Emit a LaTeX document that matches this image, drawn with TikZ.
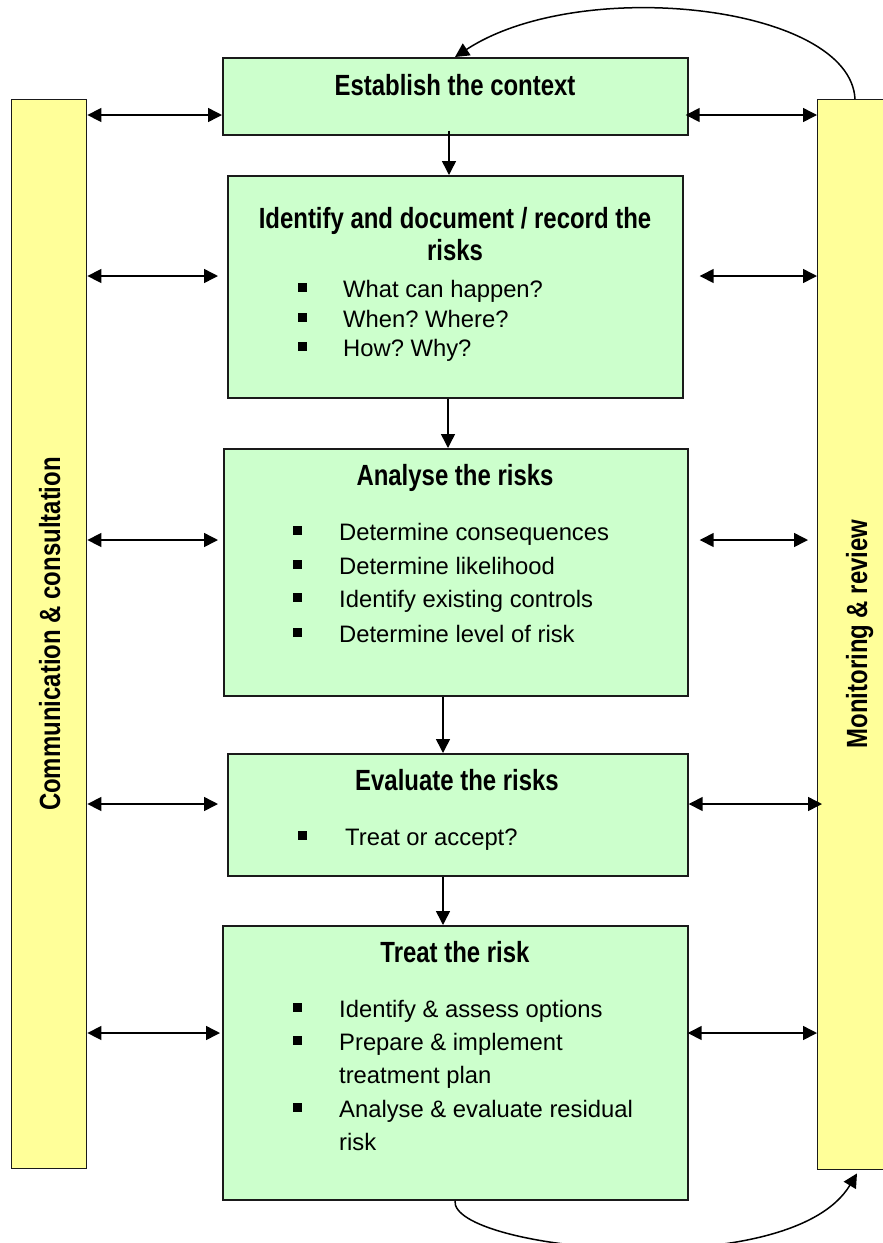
\documentclass[tikz,border=0pt]{standalone}
\usepackage{fontspec}
\setmainfont{Liberation Sans}
\newfontfamily\narrowbold{Liberation Sans}[FakeStretch=0.82]
\usetikzlibrary{arrows.meta,calc}
\definecolor{boxgreen}{HTML}{CCFFCC}
\definecolor{baryellow}{HTML}{FFFF99}
\definecolor{edge}{HTML}{1A1A1A}
\frenchspacing
\begin{document}
\begin{tikzpicture}[x=1pt,y=-1pt,
  stage/.style={draw=edge, line width=1.7pt, fill=boxgreen, inner sep=0pt, anchor=north west},
  bar/.style={draw=edge, line width=1.4pt, fill=baryellow, inner sep=0pt, anchor=north west},
  title/.style={font=\narrowbold\bfseries\fontsize{29.2}{34}\selectfont, anchor=base, inner sep=0pt},
  item/.style={font=\frenchspacing\fontsize{23.8}{30}\selectfont, anchor=base west, inner sep=0pt},
  dbl/.style={line width=1.5pt, {Triangle[length=14pt,width=14pt]}-{Triangle[length=14pt,width=14pt]}},
  arr/.style={line width=1.5pt, -{Triangle[length=14pt,width=14pt]}},
  bul/.style={fill=black}]
\useasboundingbox (0,0) rectangle (883,1243);
\clip (0,0) rectangle (883,1243);

% bars
\node[bar, minimum width=75pt, minimum height=1069pt] (comm) at (11,99) {};
\node[bar, minimum width=80pt, minimum height=1070pt] (mon) at (817,99) {};
\node[title, rotate=90] (commlabel) at (60,634) {Communication \& consultation};
\node[title, rotate=90] (monlabel) at (867,634) {Monitoring \& review};

% stage boxes
\node[stage, minimum width=465pt, minimum height=77pt] (est) at (222,57) {};
\node[stage, minimum width=455pt, minimum height=222pt] (id) at (227,175) {};
\node[stage, minimum width=464pt, minimum height=247pt] (ana) at (223,448) {};
\node[stage, minimum width=460pt, minimum height=122pt] (eva) at (227,753) {};
\node[stage, minimum width=465pt, minimum height=274pt] (tre) at (222,925) {};

% texts
\node[title] (t1) at (455,95) {Establish the context};

\node[title] (t2a) at (455,228) {Identify and document / record the};
\node[title] (t2b) at (455,260) {risks};
\node[item] (i21) at (343,297) {What can happen?};
\node[item] (i22) at (343,327) {When? Where?};
\node[item] (i23) at (343,356) {How? Why?};
\fill[bul] (298,283) rectangle ++(8.5,8.5);
\fill[bul] (298,313) rectangle ++(8.5,8.5);
\fill[bul] (298,342) rectangle ++(8.5,8.5);

\node[title] (t3) at (455,485) {Analyse the risks};
\node[item] (i31) at (339,540) {Determine consequences};
\node[item] (i32) at (339,574) {Determine likelihood};
\node[item] (i33) at (339,607) {Identify existing controls};
\node[item] (i34) at (339,642) {Determine level of risk};
\fill[bul] (293,526) rectangle ++(8.5,8.5);
\fill[bul] (293,560) rectangle ++(8.5,8.5);
\fill[bul] (293,593) rectangle ++(8.5,8.5);
\fill[bul] (293,628) rectangle ++(8.5,8.5);

\node[title] (t4) at (457,790) {Evaluate the risks};
\node[item] (i41) at (345,845) {Treat or accept?};
\fill[bul] (298,831) rectangle ++(8.5,8.5);

\node[title] (t5) at (455,962) {Treat the risk};
\node[item] (i51) at (339,1017) {Identify \& assess options};
\node[item] (i52) at (339,1050) {Prepare \& implement};
\node[item] (i53) at (339,1083) {treatment plan};
\node[item] (i54) at (339,1117) {Analyse \& evaluate residual};
\node[item] (i55) at (339,1150) {risk};
\fill[bul] (293,1003) rectangle ++(8.5,8.5);
\fill[bul] (293,1036) rectangle ++(8.5,8.5);
\fill[bul] (293,1103) rectangle ++(8.5,8.5);

% horizontal connectors
\coordinate (y1) at (0,115);
\coordinate (y2) at (0,276);
\coordinate (y3) at (0,540);
\coordinate (y4) at (0,804);
\coordinate (y5) at (0,1033);
\draw[dbl] (comm.east |- y1) -- (est.west |- y1);
\draw[dbl] ($(est.east |- y1)+(-3,0)$) -- (mon.west |- y1);
\draw[dbl] (comm.east |- y2) -- ($(id.west |- y2)+(-9,0)$);
\draw[dbl] ($(id.east |- y2)+(16,0)$) -- (mon.west |- y2);
\draw[dbl] (comm.east |- y3) -- ($(ana.west |- y3)+(-5,0)$);
\draw[dbl] ($(ana.east |- y3)+(11,0)$) -- ($(mon.west |- y3)+(-9,0)$);
\draw[dbl] (comm.east |- y4) -- ($(eva.west |- y4)+(-9,0)$);
\draw[dbl] (eva.east |- y4) -- ($(mon.west |- y4)+(5,0)$);
\draw[dbl] (comm.east |- y5) -- ($(tre.west |- y5)+(-2,0)$);
\draw[dbl] ($(tre.east |- y5)+(-1,0)$) -- (mon.west |- y5);

% vertical connectors
\coordinate (x1) at (449,0);
\coordinate (x2) at (448,0);
\coordinate (x3) at (443,0);
\draw[arr] ($(est.south -| x1)+(0,-5)$) -- (id.north -| x1);
\draw[arr] (id.south -| x2) -- (ana.north -| x2);
\draw[arr] (ana.south -| x3) -- (eva.north -| x3);
\draw[arr] (eva.south -| x3) -- (tre.north -| x3);

% feedback curves
\draw[arr] ($(mon.north west)+(38,0)$) .. controls (850,5) and (580,-25) .. ($(est.north west)+(233,0)$);
\draw[arr] ($(tre.south west)+(233,0)$) .. controls (450,1250) and (790,1285) .. ($(mon.south west)+(40,3)$);
\end{tikzpicture}
\end{document}
